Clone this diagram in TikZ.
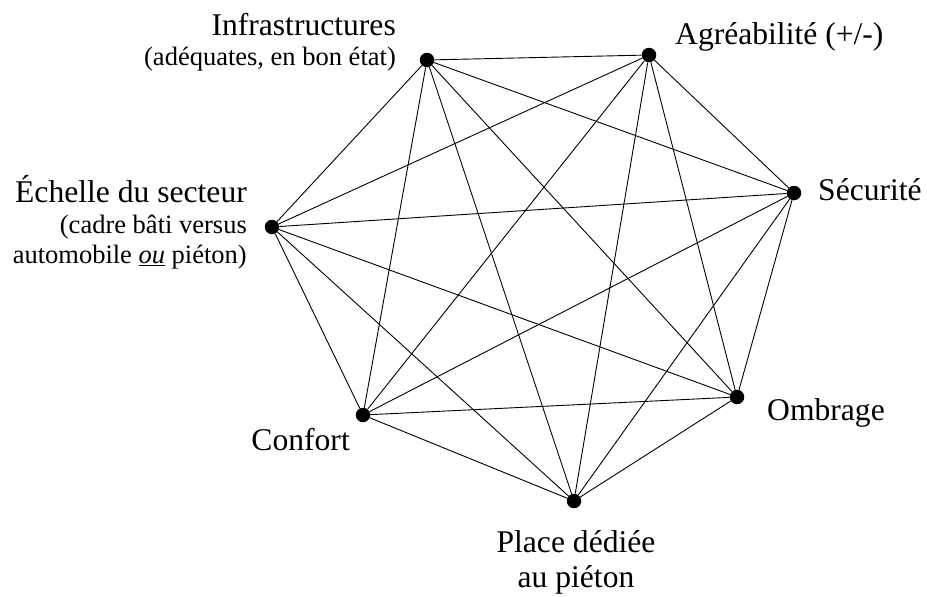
\documentclass[tikz,border=0pt]{standalone}
\usepackage{fontspec}
\setmainfont{Liberation Serif}
\usepackage{tikz}
\usetikzlibrary{positioning, calc}
\tikzset{
         mydot/.style={circle, fill=black, draw=none, inner sep=0pt, minimum size=14.5pt},
         mylabel/.style={inner sep=0pt, font=\fontsize{31.6}{36}\selectfont},
         mysub/.style={inner sep=0pt, font=\fontsize{26.5}{30}\selectfont},
         myedge/.style={draw, line width=0.9pt}
      }
\begin{document}
\begin{tikzpicture}[x=1pt,y=-1pt]
    \useasboundingbox (0,0) rectangle (927,597);
    % the seven criteria
    \node[mydot] (infra)   at (427,60)  {};
    \node[mydot] (agre)    at (649,55)  {};
    \node[mydot] (secu)    at (794,193) {};
    \node[mydot] (ombr)    at (737,397) {};
    \node[mydot] (place)   at (574,501) {};
    \node[mydot] (conf)    at (363,415) {};
    \node[mydot] (echelle) at (272,227) {};
    % labels
    \node[mylabel, anchor=base east] (infraA) at (396,35) {Infrastructures};
    \node[mysub, anchor=base east] (infraB) at (396,65) {(adéquates, en bon état)};
    \node[mylabel, anchor=base west] (agreA) at (675,45) {Agréabilité (+/-)};
    \node[mylabel, anchor=base west] (secuA) at (818,200) {Sécurité};
    \node[mylabel, anchor=base west] (ombrA) at (767,420) {Ombrage};
    \node[mylabel, anchor=base] (placeA) at (576,552) {Place dédiée};
    \node[mylabel, anchor=base] (placeB) at (576,587) {au piéton};
    \node[mylabel, anchor=base east] (confA) at (350,450) {Confort};
    \node[mylabel, anchor=base east] (echelleA) at (247,202) {Échelle du secteur};
    \node[mysub, anchor=base east] (echelleB) at (247,233) {(cadre bâti versus};
    \node[mysub, anchor=base east] (echelleC) at (247,263) {automobile \underline{\textit{ou}} piéton)};
    % every pair is linked
    \draw[myedge] (infra) -- (agre) (infra) -- (secu) (infra) -- (ombr) (infra) -- (place)
                  (infra) -- (conf) (infra) -- (echelle);
    \draw[myedge] (agre) -- (secu) (agre) -- (ombr) (agre) -- (place) (agre) -- (conf)
                  (agre) -- (echelle);
    \draw[myedge] (secu) -- (ombr) (secu) -- (place) (secu) -- (conf) (secu) -- (echelle);
    \draw[myedge] (ombr) -- (place) (ombr) -- (conf) (ombr) -- (echelle);
    \draw[myedge] (place) -- (conf) (place) -- (echelle);
    \draw[myedge] (conf) -- (echelle);
\end{tikzpicture}
\end{document}
